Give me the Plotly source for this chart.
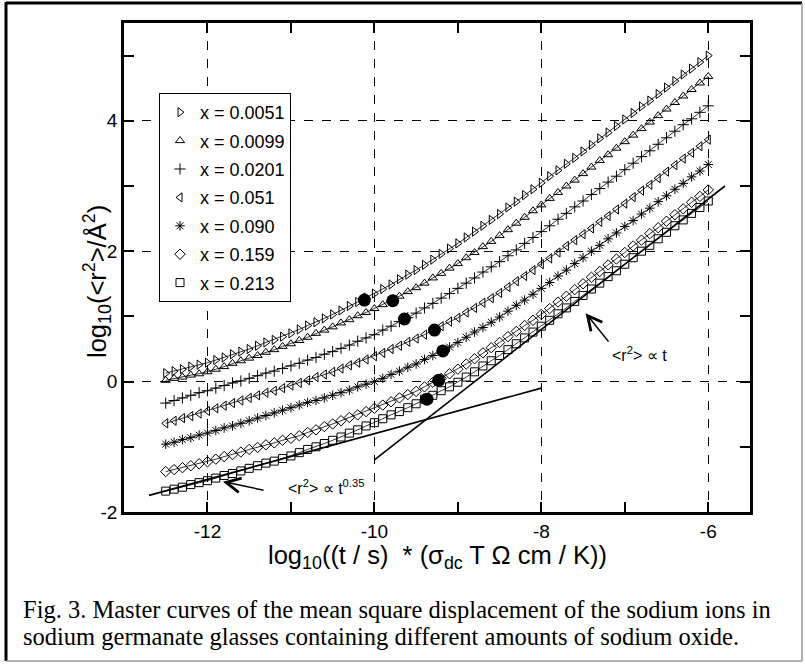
import plotly.graph_objects as go

# ---------------- data ----------------
x_grid = [-12.5, -12.4, -12.3, -12.2, -12.1, -12.0, -11.9, -11.8, -11.7, -11.6,
          -11.5, -11.4, -11.3, -11.2, -11.1, -11.0, -10.9, -10.8, -10.7, -10.6,
          -10.5, -10.4, -10.3, -10.2, -10.1, -10.0, -9.9, -9.8, -9.7, -9.6,
          -9.5, -9.4, -9.3, -9.2, -9.1, -9.0, -8.9, -8.8, -8.7, -8.6,
          -8.5, -8.4, -8.3, -8.2, -8.1, -8.0, -7.9, -7.8, -7.7, -7.6,
          -7.5, -7.4, -7.3, -7.2, -7.1, -7.0, -6.9, -6.8, -6.7, -6.6,
          -6.5, -6.4, -6.3, -6.2, -6.1, -6.0]

series_labels = ["x = 0.0051", "x = 0.0099", "x = 0.0201", "x = 0.051",
                 "x = 0.090", "x = 0.159", "x = 0.213"]

y_0051 = [0.13, 0.16, 0.19, 0.23, 0.26, 0.29, 0.33, 0.37, 0.42, 0.46,
          0.50, 0.55, 0.60, 0.64, 0.69, 0.74, 0.80, 0.86, 0.91, 0.97,
          1.03, 1.09, 1.16, 1.22, 1.29, 1.35, 1.42, 1.49, 1.57, 1.64,
          1.71, 1.79, 1.87, 1.96, 2.04, 2.12, 2.21, 2.30, 2.39, 2.48,
          2.57, 2.67, 2.76, 2.86, 2.95, 3.05, 3.15, 3.24, 3.34, 3.43,
          3.53, 3.63, 3.73, 3.82, 3.92, 4.02, 4.12, 4.22, 4.31, 4.41,
          4.51, 4.61, 4.71, 4.80, 4.90, 5.00]

y_0099 = [0.02, 0.05, 0.07, 0.10, 0.12, 0.15, 0.19, 0.23, 0.28, 0.32,
          0.36, 0.40, 0.45, 0.49, 0.54, 0.58, 0.63, 0.68, 0.74, 0.79,
          0.84, 0.90, 0.95, 1.01, 1.06, 1.12, 1.18, 1.25, 1.31, 1.38,
          1.44, 1.51, 1.59, 1.66, 1.74, 1.81, 1.90, 1.98, 2.07, 2.15,
          2.24, 2.33, 2.43, 2.52, 2.62, 2.71, 2.81, 2.90, 3.00, 3.09,
          3.19, 3.29, 3.39, 3.48, 3.58, 3.68, 3.78, 3.88, 3.98, 4.08,
          4.18, 4.28, 4.38, 4.48, 4.58, 4.68]

y_0201 = [-0.33, -0.29, -0.25, -0.21, -0.17, -0.14, -0.10, -0.06, -0.02, 0.01,
          0.05, 0.09, 0.13, 0.16, 0.20, 0.24, 0.28, 0.33, 0.37, 0.42,
          0.46, 0.51, 0.56, 0.62, 0.67, 0.72, 0.79, 0.85, 0.92, 0.98,
          1.05, 1.13, 1.20, 1.28, 1.35, 1.43, 1.51, 1.59, 1.68, 1.76,
          1.84, 1.93, 2.02, 2.12, 2.21, 2.30, 2.39, 2.49, 2.58, 2.68,
          2.77, 2.87, 2.96, 3.06, 3.15, 3.25, 3.35, 3.45, 3.54, 3.64,
          3.74, 3.84, 3.94, 4.03, 4.13, 4.23]

y_051 = [-0.64, -0.60, -0.56, -0.53, -0.49, -0.45, -0.41, -0.37, -0.33, -0.29,
         -0.25, -0.21, -0.17, -0.14, -0.10, -0.06, -0.02, 0.02, 0.07, 0.11,
         0.15, 0.20, 0.25, 0.29, 0.34, 0.39, 0.44, 0.50, 0.55, 0.61,
         0.66, 0.72, 0.79, 0.85, 0.92, 0.98, 1.06, 1.13, 1.21, 1.28,
         1.36, 1.45, 1.54, 1.62, 1.71, 1.80, 1.89, 1.98, 2.08, 2.17,
         2.26, 2.35, 2.45, 2.54, 2.64, 2.73, 2.83, 2.93, 3.02, 3.12,
         3.22, 3.32, 3.42, 3.51, 3.61, 3.71]

y_090 = [-0.96, -0.93, -0.89, -0.86, -0.82, -0.79, -0.75, -0.71, -0.68, -0.64,
         -0.60, -0.56, -0.52, -0.48, -0.44, -0.40, -0.36, -0.32, -0.29, -0.25,
         -0.21, -0.17, -0.13, -0.08, -0.04, 0.00, 0.05, 0.11, 0.16, 0.22,
         0.27, 0.34, 0.40, 0.47, 0.53, 0.60, 0.68, 0.76, 0.83, 0.91,
         0.99, 1.08, 1.17, 1.25, 1.34, 1.43, 1.52, 1.62, 1.71, 1.81,
         1.90, 2.00, 2.09, 2.19, 2.28, 2.38, 2.47, 2.57, 2.66, 2.76,
         2.85, 2.95, 3.04, 3.14, 3.23, 3.33]

y_159 = [-1.38, -1.35, -1.32, -1.29, -1.26, -1.23, -1.19, -1.15, -1.12, -1.08,
         -1.04, -1.01, -0.97, -0.94, -0.90, -0.87, -0.83, -0.78, -0.74, -0.69,
         -0.65, -0.60, -0.55, -0.51, -0.46, -0.41, -0.36, -0.31, -0.25, -0.20,
         -0.15, -0.08, -0.01, 0.05, 0.12, 0.19, 0.27, 0.35, 0.44, 0.52,
         0.60, 0.69, 0.77, 0.86, 0.94, 1.03, 1.12, 1.22, 1.31, 1.41,
         1.50, 1.60, 1.69, 1.79, 1.88, 1.98, 2.08, 2.17, 2.27, 2.36,
         2.46, 2.56, 2.65, 2.75, 2.84, 2.94]

y_213 = [-1.68, -1.65, -1.62, -1.58, -1.55, -1.52, -1.48, -1.44, -1.41, -1.37,
         -1.33, -1.29, -1.25, -1.22, -1.18, -1.14, -1.09, -1.04, -1.00, -0.95,
         -0.90, -0.85, -0.79, -0.74, -0.68, -0.63, -0.57, -0.51, -0.46, -0.40,
         -0.34, -0.27, -0.21, -0.14, -0.08, -0.01, 0.07, 0.15, 0.24, 0.32,
         0.40, 0.49, 0.58, 0.67, 0.76, 0.85, 0.94, 1.04, 1.13, 1.23,
         1.32, 1.42, 1.51, 1.61, 1.70, 1.80, 1.90, 2.00, 2.09, 2.19,
         2.29, 2.39, 2.48, 2.58, 2.67, 2.77]

# filled circles marked on each curve
circle_x = [-10.12, -9.78, -9.64, -9.28, -9.18, -9.23, -9.37]
circle_y = [1.25, 1.24, 0.96, 0.79, 0.47, 0.02, -0.27]

# guide lines  <r^2> ~ t^0.35  and  <r^2> ~ t
guide035_x = [-12.7, -8.0]
guide035_y = [-1.745, -0.10]
guide1_x = [-10.0, -5.8]
guide1_y = [-1.2, 3.0]

x_tickvals = [-12, -10, -8, -6]
x_ticktext = ["-12", "-10", "-8", "-6"]
x_minor = [-11, -9, -7]
y_tickvals = [-2, 0, 2, 4]
y_ticktext = ["-2", "0", "2", "4"]
y_minor = [-1, 1, 3, 5]

all_series = [y_0051, y_0099, y_0201, y_051, y_090, y_159, y_213]
symbols = ["triangle-right-open", "triangle-up-open", "cross-thin-open",
           "triangle-left-open", "asterisk-open", "diamond-open", "square-open"]

# ---------------- figure ----------------
SANS = "Liberation Sans, Arial, sans-serif"
SERIF = "Liberation Serif, Times New Roman, serif"

W, H = 805, 664
L, R, T, B = 124, 55, 23, 152
PW, PH = W - L - R, H - T - B


def fx(px):
    return (px - L) / PW


def fy(py):
    return (H - B - py) / PH


fig = go.Figure()

for ys in all_series:
    fig.add_trace(go.Scatter(x=x_grid, y=ys, mode="lines",
                             line=dict(color="black", width=0.8),
                             showlegend=False, hoverinfo="skip"))

for lab, ys, sym in zip(series_labels, all_series, symbols):
    fig.add_trace(go.Scatter(x=x_grid, y=ys, mode="markers", name=lab,
                             legendgroup=lab,
                             marker=dict(symbol=sym, size=8, color="black",
                                         line=dict(color="black", width=1))))

fig.add_trace(go.Scatter(x=guide035_x, y=guide035_y, mode="lines",
                         line=dict(color="black", width=1.6), showlegend=False))
fig.add_trace(go.Scatter(x=guide1_x, y=guide1_y, mode="lines",
                         line=dict(color="black", width=1.6), showlegend=False))
fig.add_trace(go.Scatter(x=circle_x, y=circle_y, mode="markers",
                         marker=dict(symbol="circle", size=13, color="black"),
                         showlegend=False))

axis_common = dict(
    showline=True, linecolor="black", linewidth=2.5, mirror="ticks",
    ticks="inside", ticklen=10, tickwidth=1.5, tickcolor="black",
    showgrid=True, gridcolor="black", griddash="dash", gridwidth=1,
    zeroline=False, tickfont=dict(family=SANS, size=19, color="black"),
)

fig.update_xaxes(range=[-13, -5.5], tickmode="array", tickvals=x_tickvals,
                 ticktext=x_ticktext,
                 minor=dict(tickmode="array", tickvals=x_minor, ticks="inside",
                            ticklen=10, tickwidth=1.5, tickcolor="black",
                            showgrid=False),
                 **axis_common)
fig.update_yaxes(range=[-2, 5.5], tickmode="array", tickvals=y_tickvals,
                 ticktext=y_ticktext,
                 minor=dict(tickmode="array", tickvals=y_minor, ticks="inside",
                            ticklen=10, tickwidth=1.5, tickcolor="black",
                            showgrid=False),
                 **axis_common)

annotations = [
    dict(text="log<sub>10</sub>((t / s) &nbsp;* (σ<sub>dc</sub> T Ω cm / K))",
         xref="paper", yref="paper", x=0.5, y=fy(557), xanchor="center",
         yanchor="middle", showarrow=False,
         font=dict(family=SANS, size=25.5, color="black")),
    dict(text="log<sub>10</sub>(&lt;r<sup>2</sup>&gt;/Å<sup>2</sup>)",
         xref="paper", yref="paper", x=fx(97), y=fy(282), xanchor="center",
         yanchor="middle", textangle=-90, showarrow=False,
         font=dict(family=SANS, size=25.5, color="black")),
    dict(text="&lt;r<sup>2</sup>&gt; ∝ t<sup>0.35</sup>", x=-10.58, y=-1.62,
         xref="x", yref="y", showarrow=False, xanchor="center", yanchor="middle",
         font=dict(family=SANS, size=16, color="black")),
    dict(text="&lt;r<sup>2</sup>&gt; ∝ t", x=-6.82, y=0.42,
         xref="x", yref="y", showarrow=False, xanchor="center", yanchor="middle",
         font=dict(family=SANS, size=16, color="black")),
    dict(text="", x=-11.815, y=-1.535, ax=-11.31, ay=-1.67, xref="x", yref="y",
         axref="x", ayref="y", showarrow=True, arrowhead=5, arrowsize=1.9,
         arrowwidth=1.5, arrowcolor="black"),
    dict(text="", x=-7.47, y=1.05, ax=-7.18, ay=0.59, xref="x", yref="y",
         axref="x", ayref="y", showarrow=True, arrowhead=5, arrowsize=1.9,
         arrowwidth=1.5, arrowcolor="black"),
    dict(text="Fig. 3. Master curves of the mean square displacement of the sodium ions in",
         xref="paper", yref="paper", x=fx(21), y=fy(610), xanchor="left",
         yanchor="middle", showarrow=False,
         font=dict(family=SERIF, size=24.5, color="black")),
    dict(text="sodium germanate glasses containing different amounts of sodium oxide.",
         xref="paper", yref="paper", x=fx(21), y=fy(636), xanchor="left",
         yanchor="middle", showarrow=False,
         font=dict(family=SERIF, size=24.5, color="black")),
]

shapes = [
    dict(type="line", xref="paper", yref="paper", x0=fx(6), x1=fx(6),
         y0=fy(2), y1=fy(661), line=dict(color="black", width=3)),
    dict(type="line", xref="paper", yref="paper", x0=fx(6), x1=fx(802),
         y0=fy(3), y1=fy(3), line=dict(color="black", width=3)),
    dict(type="line", xref="paper", yref="paper", x0=fx(802), x1=fx(802),
         y0=fy(3), y1=fy(661), line=dict(color="#999999", width=1.5)),
    dict(type="line", xref="paper", yref="paper", x0=fx(6), x1=fx(802),
         y0=fy(661), y1=fy(661), line=dict(color="#999999", width=1.5)),
]

fig.update_layout(
    width=W, height=H,
    margin=dict(l=L, r=R, t=T, b=B),
    paper_bgcolor="white", plot_bgcolor="white",
    showlegend=True,
    legend=dict(x=fx(159), y=fy(93), xanchor="left", yanchor="top",
                bgcolor="white", bordercolor="black", borderwidth=1,
                font=dict(family=SANS, size=18, color="black"),
                tracegroupgap=2, traceorder="grouped"),
    annotations=annotations,
    shapes=shapes,
)

fig.write_html("out.html")
